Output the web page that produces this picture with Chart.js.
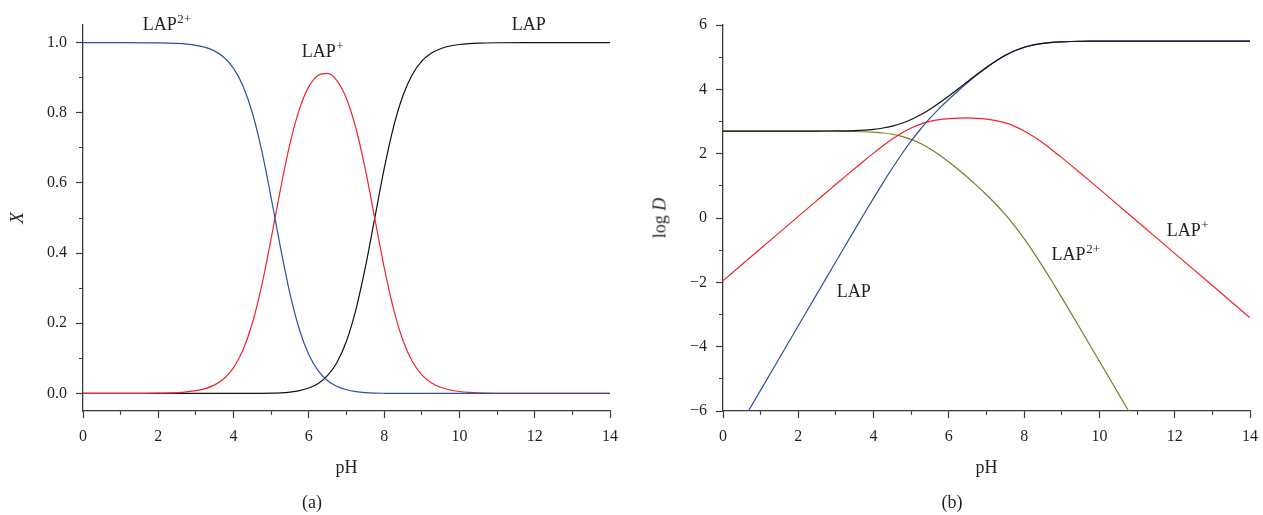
<!DOCTYPE html>
<html><head><meta charset="utf-8">
<script src="https://cdn.jsdelivr.net/npm/chart.js@4.4.1/dist/chart.umd.min.js"></script>
<style>
html,body{margin:0;padding:0;background:#fff;width:1263px;height:515px;overflow:hidden;}
#wrap{position:relative;width:1263px;height:515px;font-family:"Liberation Serif",serif;color:#231f20;}
.pane{position:absolute;top:0;height:515px;}
#paneA{left:0;width:640px;}
#paneB{left:640px;width:623px;}
.cap{position:absolute;font-size:18px;transform:translate(-50%,-50%);white-space:nowrap;}
#ylabB{position:absolute;left:660px;top:218px;font-size:18px;transform:translate(-50%,-50%) rotate(-90deg);white-space:nowrap;}
</style></head>
<body><div id="wrap">
<div class="pane" id="paneA"><canvas id="chartA" width="640" height="515"></canvas></div>
<div class="pane" id="paneB"><canvas id="chartB" width="623" height="515"></canvas></div>
<div class="cap" style="left:312px;top:502px">(a)</div>
<div class="cap" style="left:952px;top:502px">(b)</div>
<div id="ylabB">log <i>D</i></div>
</div>
<script>
// ---------- data ----------
const pH = [0,1,2,2.5,2.75,3,3.25,3.5,3.75,4,4.25,4.5,4.75,5,5.25,5.5,5.75,6,6.25,6.5,6.75,7,7.25,7.5,7.75,8,8.25,8.5,8.75,9,9.25,9.5,9.75,10,10.25,10.5,11,12,13,14];

// (a) mole fractions X
const xLAP2 = [1,1,0.9992,0.9975,0.9956,0.9921,0.9861,0.9755,0.9572,0.9264,0.8762,0.7992,0.6910,0.5569,0.4137,0.2836,0.1814,0.1101,0.0642,0.0363,0.0199,0.0106,0.0054,0.0025,0.0011,0.0005,0.0002,0.0001,0,0,0,0,0,0,0,0,0,0,0,0];
const xLAP1 = [0,0.0001,0.0008,0.0025,0.0045,0.0079,0.0139,0.0245,0.0428,0.0736,0.1238,0.2007,0.3087,0.4423,0.5844,0.7124,0.8104,0.8744,0.9071,0.9124,0.8909,0.8400,0.7557,0.6385,0.4994,0.3598,0.2402,0.1510,0.0909,0.0532,0.0307,0.0175,0.0099,0.0056,0.0032,0.0018,0.0006,0.0001,0,0];
const xLAP0 = [0,0,0,0,0,0,0,0,0,0,0,0.0001,0.0003,0.0008,0.0018,0.0040,0.0081,0.0156,0.0287,0.0513,0.0891,0.1494,0.2390,0.3590,0.4994,0.6398,0.7596,0.8490,0.9091,0.9468,0.9693,0.9825,0.9901,0.9944,0.9968,0.9982,0.9994,0.9999,1,1];

// (b) log D
const dLAP2 = [2.700,2.700,2.700,2.699,2.698,2.697,2.694,2.689,2.681,2.667,2.643,2.603,2.540,2.446,2.317,2.153,1.959,1.742,1.508,1.260,1.000,0.724,0.428,0.105,-0.252,-0.644,-1.069,-1.521,-1.991,-2.474,-2.964,-3.458,-3.954,-4.452,-4.951,-5.451,-6.450,null,null,null];
const dLAP1 = [-1.95,-0.95,0.05,0.549,0.798,1.047,1.294,1.539,1.781,2.017,2.243,2.453,2.640,2.796,2.917,3.003,3.059,3.092,3.108,3.110,3.100,3.074,3.028,2.955,2.849,2.706,2.531,2.329,2.109,1.876,1.636,1.392,1.146,0.898,0.649,0.399,-0.100,-1.100,-2.100,-3.100];
const dLAP0 = [-7.35,-5.35,-3.35,-2.35,-1.852,-1.353,-0.856,-0.361,0.131,0.617,1.093,1.553,1.990,2.396,2.767,3.103,3.409,3.692,3.958,4.210,4.450,4.674,4.878,5.055,5.199,5.306,5.381,5.429,5.459,5.476,5.487,5.492,5.496,5.498,5.499,5.499,5.500,5.500,5.500,5.500];
const dTotal = [2.700,2.700,2.701,2.702,2.704,2.707,2.711,2.719,2.734,2.758,2.797,2.858,2.945,3.062,3.209,3.383,3.580,3.793,4.017,4.244,4.469,4.685,4.884,5.058,5.201,5.307,5.382,5.429,5.459,5.476,5.487,5.492,5.496,5.498,5.499,5.499,5.500,5.500,5.500,5.500];

// ticks
const xTicks = [0,1,2,3,4,5,6,7,8,9,10,11,12,13,14];
const xTickLabels = ['0','','2','','4','','6','','8','','10','','12','','14'];
const yTicksA = [0,0.1,0.2,0.3,0.4,0.5,0.6,0.7,0.8,0.9,1.0];
const yTickLabelsA = ['0.0','','0.2','','0.4','','0.6','','0.8','','1.0'];
const yTicksB = [-6,-5,-4,-3,-2,-1,0,1,2,3,4,5,6];
const yTickLabelsB = ['\u22126','','\u22124','','\u22122','','0','','2','','4','','6'];

// curve labels (data coordinates)
const labelsA = [
  {text:'LAP', sup:'2+', x:1.59, y:1.037},
  {text:'LAP', sup:'+',  x:5.81, y:0.96},
  {text:'LAP', sup:'',   x:11.39, y:1.035}
];
const labelsB = [
  {text:'LAP', sup:'',   x:3.02, y:-2.47},
  {text:'LAP', sup:'2+', x:8.73, y:-1.30},
  {text:'LAP', sup:'+',  x:11.79, y:-0.545}
];

// ---------- rendering ----------
const FONT = '"Liberation Serif", serif';
const TXT = '#231f20';
const AX = '#3a3a3a';
const BLUE = '#2e4fa6', RED = '#f0242a', BLACK = '#111111', OLIVE = '#7f7b22';

const annot = {
  id:'annot',
  afterDatasetsDraw(chart, args, opts){
    const c = chart.ctx, xs = chart.scales.x, ys = chart.scales.y;
    c.save();
    c.fillStyle = TXT; c.textAlign = 'left'; c.textBaseline = 'alphabetic';
    for (const a of opts.items){
      const px = xs.getPixelForValue(a.x), py = ys.getPixelForValue(a.y);
      c.font = '18px ' + FONT;
      c.fillText(a.text, px, py);
      if (a.sup){
        const w = c.measureText(a.text).width;
        c.font = '13px ' + FONT;
        c.fillText(a.sup, px + w + 0.5, py - 7);
      }
    }
    c.restore();
  }
};

function series(ys){ return pH.map((x,i)=>({x:x, y:ys[i]})); }
function ds(ys, color){
  return {data:series(ys), borderColor:color, borderWidth:1.2, pointRadius:0, fill:false,
          cubicInterpolationMode:'monotone', spanGaps:false};
}

function xScale(){
  return {
    type:'linear', min:0, max:14,
    afterBuildTicks: s => { s.ticks = xTicks.map(v=>({value:v})); },
    afterFit: s => { s.height = 104; s.paddingLeft = 0; s.paddingRight = 0; },
    grid:{drawOnChartArea:false, drawTicks:true, tickLength:7, tickColor:AX, tickWidth:1.2,
      tickBorderDash: ctx => (ctx.index !== undefined && xTickLabels[ctx.index] === '') ? [3.5, 30] : []},
    border:{display:true, color:AX, width:1.3},
    ticks:{padding:9, color:TXT, font:{family:FONT, size:16}, autoSkip:false, maxRotation:0,
      callback:(v,i)=>xTickLabels[i]},
    title:{display:true, text:'pH', color:TXT, font:{family:FONT, size:18}, padding:{top:0, bottom:36}}
  };
}
function yScale(min, max, ticks, labels, title){
  return {
    type:'linear', min:min, max:max,
    afterBuildTicks: s => { s.ticks = ticks.map(v=>({value:v})); },
    afterFit: s => { s.width = 83; s.paddingTop = 0; s.paddingBottom = 0; },
    grid:{drawOnChartArea:false, drawTicks:true, tickLength:7, tickColor:AX, tickWidth:1.2,
      tickBorderDash: ctx => (ctx.index !== undefined && labels[ctx.index] === '') ? [0, 3, 3.5, 30] : []},
    border:{display:true, color:AX, width:1.3},
    ticks:{padding:9, color:TXT, font:{family:FONT, size:16}, autoSkip:false,
      callback:(v,i)=>labels[i]},
    title: title ? {display:true, text:title, color:TXT, font:{family:FONT, size:19, style:'italic'}, padding:{top:7, bottom:0}} : {display:false}
  };
}

Chart.defaults.font.family = FONT;

new Chart(document.getElementById('chartA'), {
  type:'line',
  data:{datasets:[ds(xLAP2, BLUE), ds(xLAP1, RED), ds(xLAP0, BLACK)]},
  options:{
    responsive:false, animation:false, devicePixelRatio:1,
    layout:{padding:{left:0, right:30, top:25, bottom:0}},
    plugins:{legend:{display:false}, tooltip:{enabled:false}, annot:{items:labelsA}},
    scales:{x:xScale(), y:yScale(-0.05, 1.05, yTicksA, yTickLabelsA, 'X')}
  },
  plugins:[annot]
});

new Chart(document.getElementById('chartB'), {
  type:'line',
  data:{datasets:[ds(dTotal, BLACK), ds(dLAP0, BLUE), ds(dLAP1, RED), ds(dLAP2, OLIVE)]},
  options:{
    responsive:false, animation:false, devicePixelRatio:1,
    layout:{padding:{left:0, right:13, top:25, bottom:0}},
    plugins:{legend:{display:false}, tooltip:{enabled:false}, annot:{items:labelsB}},
    scales:{x:xScale(), y:yScale(-6, 6, yTicksB, yTickLabelsB, null)}
  },
  plugins:[annot]
});
</script>
</body></html>
